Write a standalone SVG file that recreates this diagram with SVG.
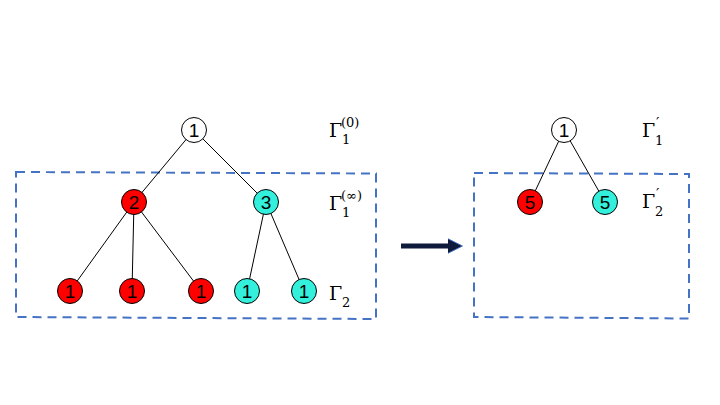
<svg xmlns="http://www.w3.org/2000/svg" width="720" height="405" viewBox="0 0 720 405">
<defs>
<style>
.box{fill:none;stroke:#4472C4;stroke-width:2;stroke-dasharray:9,6}
.edge{stroke:#000;stroke-width:1;fill:none}
.n circle{stroke:#000;stroke-width:1}
.n text{font-family:"Liberation Sans",Arial,sans-serif;font-size:19px;text-anchor:middle;fill:#000}
.w circle{fill:#fff}
.r circle{fill:#FF0000}
.c circle{fill:#33F0DC}
.lab{font-family:"DejaVu Serif","Liberation Serif",serif;fill:#000}
.G{font-size:19px}
.s{font-size:13px}
.p{font-size:15px}
</style>
<marker id="ah" viewBox="0 0 10 10" refX="5" refY="5" markerWidth="3" markerHeight="3.2" orient="auto" markerUnits="strokeWidth">
<path d="M0,0 L10,5 L0,10 z" fill="#0F1B3D" stroke="#4472C4" stroke-width="0.6"/>
</marker>
</defs>
<rect width="720" height="405" fill="#fff"/>
<g id="boxes">
<path class="box" d="M16,172 L376,173.5 L376,319 L16,317 Z"/>
<path class="box" d="M474,173 L689,174 L689,318.5 L474,317 Z"/>
</g>
<g id="connectors">
<line class="edge" x1="194" y1="130" x2="134" y2="202"/>
<line class="edge" x1="194" y1="130" x2="266" y2="202"/>
<line class="edge" x1="134" y1="202" x2="70" y2="291"/>
<line class="edge" x1="134" y1="202" x2="132" y2="291"/>
<line class="edge" x1="134" y1="202" x2="201" y2="291"/>
<line class="edge" x1="266" y1="202" x2="247" y2="291"/>
<line class="edge" x1="266" y1="202" x2="304" y2="291"/>
<line class="edge" x1="564" y1="130" x2="530" y2="202"/>
<line class="edge" x1="564" y1="130" x2="605" y2="202"/>
<line id="arrow" x1="401" y1="246" x2="455" y2="246" stroke="#0F1B3D" stroke-width="5" marker-end="url(#ah)"/>
</g>
<g id="n_top" class="n w"><circle cx="194" cy="130" r="12.5"/><text x="194" y="137">1</text></g>
<g id="n_2" class="n r"><circle cx="134" cy="202" r="12.5"/><text x="134" y="209">2</text></g>
<g id="n_3" class="n c"><circle cx="266" cy="202" r="12.5"/><text x="266" y="209">3</text></g>
<g id="n_b1" class="n r"><circle cx="70" cy="291" r="12.5"/><text x="70" y="298">1</text></g>
<g id="n_b2" class="n r"><circle cx="132" cy="291" r="12.5"/><text x="132" y="298">1</text></g>
<g id="n_b3" class="n r"><circle cx="201" cy="291" r="12.5"/><text x="201" y="298">1</text></g>
<g id="n_b4" class="n c"><circle cx="247" cy="291" r="12.5"/><text x="247" y="298">1</text></g>
<g id="n_b5" class="n c"><circle cx="304" cy="291" r="12.5"/><text x="304" y="298">1</text></g>
<g id="m_top" class="n w"><circle cx="564" cy="130" r="12.5"/><text x="564" y="137">1</text></g>
<g id="m_5r" class="n r"><circle cx="530" cy="202" r="12.5"/><text x="530" y="209">5</text></g>
<g id="m_5c" class="n c"><circle cx="605" cy="202" r="12.5"/><text x="605" y="209">5</text></g>
<g id="labels" class="lab">
<text x="329" y="137" class="G">Γ</text><text x="342" y="144" class="s">1</text><text x="341" y="127" class="s">(0)</text>
<text x="329" y="210" class="G">Γ</text><text x="342" y="217" class="s">1</text><text x="341" y="200" class="s">(∞)</text>
<text x="329" y="300" class="G">Γ</text><text x="342" y="307" class="s">2</text>
<text x="642" y="137" class="G">Γ</text><text x="655" y="145" class="s">1</text><text x="656" y="128" class="p">′</text>
<text x="642" y="208" class="G">Γ</text><text x="655" y="216" class="s">2</text><text x="656" y="199" class="p">′</text>
</g>
</svg>
